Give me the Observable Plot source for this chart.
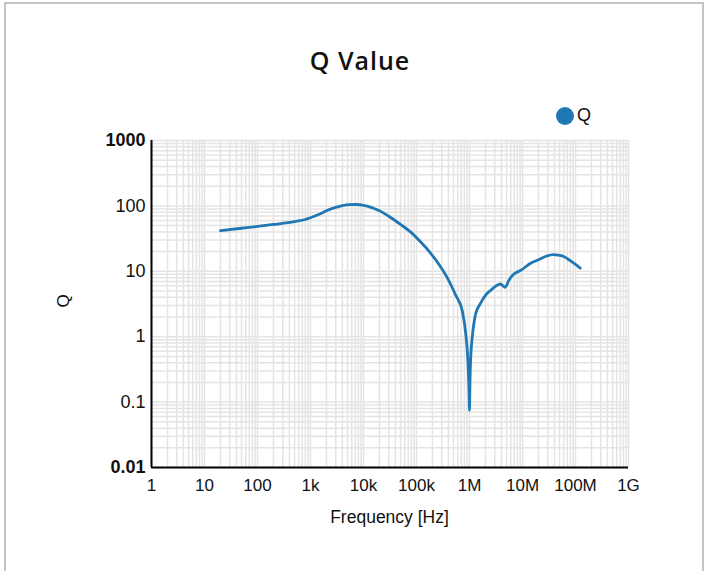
<!DOCTYPE html>
<html>
<head>
<meta charset="utf-8">
<script src="https://cdn.jsdelivr.net/npm/d3@7"></script>
<script src="https://cdn.jsdelivr.net/npm/@observablehq/plot@0.6"></script>
<style>
  html, body { margin: 0; padding: 0; background: #fff; }
  #wrap { position: relative; width: 715px; height: 571px; overflow: hidden; font-family: "Liberation Sans", Arial, sans-serif; }
  #border { position: absolute; left: 4px; top: 2px; width: 700px; height: 620px; border: 2px solid #c4c4c4; box-sizing: border-box; }
  #title { position: absolute; left: 0; width: 720px; top: 43px; text-align: center; font-family: "Open Sans", "Noto Sans", sans-serif; font-size: 25px; font-weight: 600; letter-spacing: 1px; color: #111; }
  #legend { position: absolute; left: 556px; top: 105px; display: flex; align-items: center; font-size: 18px; color: #111; }
  #legend .dot { width: 18px; height: 18px; border-radius: 50%; background: #1f77b4; margin-right: 3px; }
  #xlabel { position: absolute; left: 151px; width: 477px; top: 507px; text-align: center; font-size: 17.5px; color: #111; }
  #ylabel { position: absolute; left: 64px; top: 301px; font-size: 17px; color: #111; transform: translate(-50%, -50%) rotate(-90deg); }
  #chart { position: absolute; left: 0; top: 0; }
</style>
</head>
<body>
<div id="wrap">
  <div id="border"></div>
  <div id="chart"></div>
  <div id="title">Q Value</div>
  <div id="legend"><div class="dot"></div><span>Q</span></div>
  <div id="xlabel">Frequency [Hz]</div>
  <div id="ylabel">Q</div>
</div>
<script>
// Data
const freq = [20, 50, 100, 200, 500, 800, 1000, 1500, 2100, 3000, 4000, 5500, 7500, 10000, 13500, 20000, 32000, 50000, 77000, 120000, 184000, 270000, 380000, 550000, 730000, 840000, 930000, 980000, 1000000, 1020000, 1050000, 1100000, 1170000, 1300000, 1600000, 2000000, 2500000, 3000000, 3800000, 4300000, 4700000, 5500000, 6400000, 8000000, 9200000, 14000000, 20000000, 28000000, 38000000, 50000000, 60000000, 80000000, 100000000, 123000000];
const qValue = [42, 45.5, 48.5, 52, 57.5, 62, 66, 75, 86, 95, 101, 104.5, 105, 102, 96, 84, 67, 52, 40, 28, 19, 12.5, 8, 4.3, 2.5, 1.2, 0.45, 0.15, 0.075, 0.2, 0.45, 0.8, 1.3, 2.2, 3.2, 4.3, 5.1, 5.8, 6.4, 6.0, 5.7, 7.2, 8.6, 9.8, 10.3, 13.2, 15, 17, 18, 17.5, 16.8, 14.5, 12.8, 11.2];

const xTicks = [1, 10, 100, 1e3, 1e4, 1e5, 1e6, 1e7, 1e8, 1e9];
const xTickLabels = ["1", "10", "100", "1k", "10k", "100k", "1M", "10M", "100M", "1G"];
const yTicksNormal = [0.1, 1, 10, 100];
const yTicksNormalLabels = ["0.1", "1", "10", "100"];
const yTicksBold = [0.01, 1000];
const yTicksBoldLabels = ["0.01", "1000"];

const data = freq.map((f, i) => ({f, q: qValue[i]}));

// minor grid values
const xGrid = [];
for (let d = 0; d < 9; d++) for (let k = 1; k <= 9; k++) xGrid.push(k * Math.pow(10, d));
xGrid.push(1e9);
const yGrid = [];
for (let d = -2; d < 3; d++) for (let k = 1; k <= 9; k++) yGrid.push(+(k * Math.pow(10, d)).toPrecision(3));
yGrid.push(1000);

const xl = new Map(xTicks.map((t, i) => [t, xTickLabels[i]]));
const ynl = new Map(yTicksNormal.map((t, i) => [t, yTicksNormalLabels[i]]));
const ybl = new Map(yTicksBold.map((t, i) => [t, yTicksBoldLabels[i]]));

const chart = Plot.plot({
  width: 715,
  height: 571,
  marginLeft: 151,
  marginRight: 87,
  marginTop: 140,
  marginBottom: 104,
  style: {fontFamily: "'Liberation Sans', Arial, sans-serif", fontSize: "17px", color: "#111", background: "transparent"},
  x: {type: "log", domain: [1, 1e9]},
  y: {type: "log", domain: [0.01, 1000]},
  marks: [
    Plot.ruleX(xGrid, {x: d => d, stroke: "#e4e4e4", strokeWidth: 1.5}),
    Plot.ruleY(yGrid, {y: d => d, stroke: "#e4e4e4", strokeWidth: 1.5}),
    Plot.line(data, {x: "f", y: "q", stroke: "#1f77b4", strokeWidth: 2.8, curve: "monotone-x", strokeLinejoin: "round"}),
    Plot.axisX({ticks: xTicks, tickFormat: d => xl.get(d), tickSize: 0, tickPadding: 11, label: null, fontSize: 17}),
    Plot.axisY({ticks: yTicksNormal, tickFormat: d => ynl.get(d), tickSize: 0, tickPadding: 6, label: null, fontSize: 18}),
    Plot.axisY({ticks: yTicksBold, tickFormat: d => ybl.get(d), tickSize: 0, tickPadding: 6, label: null, fontSize: 18, fontWeight: "bold"}),
    Plot.ruleX([1], {stroke: "#000", strokeWidth: 2}),
    Plot.ruleY([0.01], {stroke: "#000", strokeWidth: 2})
  ]
});
document.getElementById("chart").appendChild(chart);
</script>
</body>
</html>
